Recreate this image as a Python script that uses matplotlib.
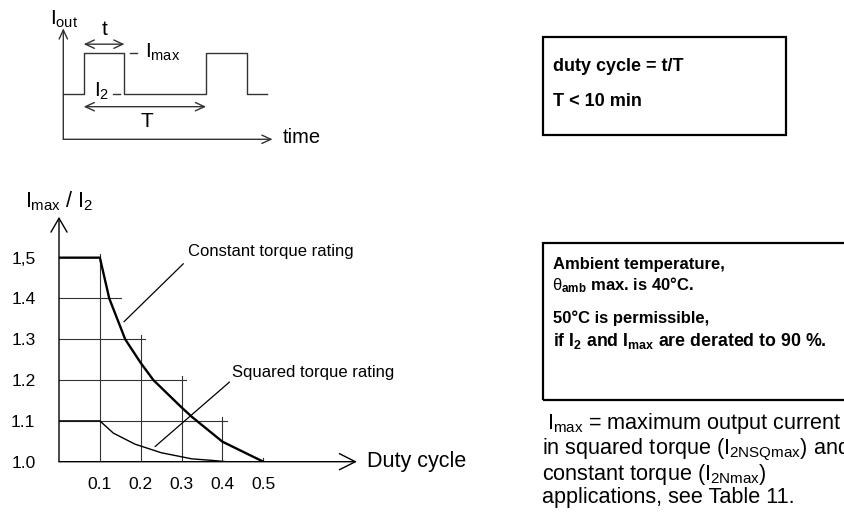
import matplotlib.pyplot as plt
from matplotlib.patches import Rectangle

plt.rcParams['font.family'] = ['Liberation Sans', 'DejaVu Sans']
plt.rcParams['mathtext.fontset'] = 'custom'
plt.rcParams['mathtext.rm'] = 'Liberation Sans'
plt.rcParams['mathtext.it'] = 'Liberation Sans'
plt.rcParams['mathtext.bf'] = 'Liberation Sans:bold'

# load curves: duty cycle -> Imax/I2
const_duty = [0, 0.1, 0.123, 0.162, 0.2, 0.231, 0.3, 0.325, 0.4, 0.5]
const_ratio = [1.5, 1.5, 1.4, 1.3, 1.242, 1.2, 1.133, 1.11, 1.049, 1.0]
sq_duty = [0, 0.1, 0.133, 0.186, 0.25, 0.3, 0.325, 0.377, 0.41, 0.5]
sq_ratio = [1.1, 1.1, 1.07, 1.043, 1.022, 1.012, 1.007, 1.003, 1.0, 1.0]

# helper grid: horizontal levels and how far they reach, vertical lines and their height
grid_levels = [1.4, 1.3, 1.2, 1.1]
grid_level_ends = [0.151, 0.21, 0.311, 0.41]
grid_duty = [0.1, 0.2, 0.3, 0.4, 0.5]
grid_duty_tops = [1.508, 1.31, 1.21, 1.11, 1.01]

x_ticks = [0.1, 0.2, 0.3, 0.4, 0.5]
x_labels = ['0.1', '0.2', '0.3', '0.4', '0.5']
y_ticks = [1.0, 1.1, 1.2, 1.3, 1.4, 1.5]
y_labels = ['1.0', '1.1', '1.2', '1.3', '1.4', '1,5']

# output current waveform (time in units of t, current in units of I2)
pulse_time = [0, 0.5, 0.5, 1.5, 1.5, 3.5, 3.5, 4.5, 4.5, 5.0]
pulse_level = [1, 1, 1.9, 1.9, 1, 1, 1.9, 1.9, 1, 1]

W, H = 845, 528
fig = plt.figure(figsize=(W / 100, H / 100), dpi=100)


def px_axes(left, top, right, bottom):
    a = fig.add_axes([left / W, 1 - bottom / H, (right - left) / W, (bottom - top) / H])
    a.set_axis_off()
    return a


def ftext(x, y, s, **kw):
    fig.text(x / W, 1 - y / H, s, va='center', ha='left', **kw)


def arrow(a, start, end, style, lw=1.0, color='black'):
    a.annotate('', xy=end, xytext=start, annotation_clip=False,
               arrowprops=dict(arrowstyle=style, lw=lw, color=color,
                               shrinkA=0, shrinkB=0, mutation_scale=10))


# ---- waveform sketch ----
ws = px_axes(63.3, 26.05, 279.5, 139.3)
ws.set_xlim(0, 5.3)
ws.set_ylim(0, 2.5)
ws.plot(pulse_time, pulse_level, color='#333', lw=1.0, clip_on=False)
arrow(ws, (0, 0), (5.13, 0), '->,head_length=0.65,head_width=0.3', color='#333')
arrow(ws, (0, 0), (0, 2.45), '->,head_length=0.65,head_width=0.3', color='#333')
arrow(ws, (0.5, 2.1), (1.5, 2.1), '<->,head_length=0.65,head_width=0.3', color='#333')
arrow(ws, (0.5, 0.72), (3.5, 0.72), '<->,head_length=0.65,head_width=0.3', color='#333')
ws.plot([1.63, 1.8], [1.9, 1.9], color='#333', lw=1.0)
ws.plot([1.22, 1.39], [1.0, 1.0], color='#333', lw=1.0)
ws.text(1.02, 2.42, 't', fontsize=15, ha='center', va='center')
ws.text(2.04, 0.39, 'T', fontsize=15, ha='center', va='center')
ws.text(2.0, 1.92, r'$I_{max}$', fontsize=15, ha='left', va='center')
ws.text(0.76, 1.05, r'$I_2$', fontsize=15, ha='left', va='center')
ws.text(5.39, 0.03, 'time', fontsize=14.5, ha='left', va='center')
ws.text(-0.33, 2.64, r'$I_{out}$', fontsize=15, ha='left', va='center')

# ---- derating chart ----
ax = fig.add_axes([59 / W, 1 - 461.7 / H, 306.5 / W, 253 / H])
ax.set_xlim(0, 0.75)
ax.set_ylim(1.0, 1.62)
for s in ax.spines.values():
    s.set_visible(False)
ax.set_xticks(x_ticks, labels=x_labels)
ax.set_yticks(y_ticks, labels=y_labels)
ax.tick_params(length=0, labelsize=12.5)
ax.tick_params(axis='x', pad=11)
ax.tick_params(axis='y', pad=17)

for lvl, end in zip(grid_levels, grid_level_ends):
    ax.plot([0, end], [lvl, lvl], color='#333', lw=0.8)
for d, top in zip(grid_duty, grid_duty_tops):
    ax.plot([d, d], [1.0, top], color='#333', lw=0.8)

ax.plot(const_duty, const_ratio, color='black', lw=1.7, zorder=3)
ax.plot(sq_duty, sq_ratio, color='black', lw=1.0, zorder=3)

arrow(ax, (0, 1.0), (0.729, 1.0), '->,head_length=1.15,head_width=0.58')
arrow(ax, (0, 1.0), (0, 1.6), '->,head_length=1.0,head_width=0.58')

ax.text(0.753, 1.0, 'Duty cycle', fontsize=15.5, ha='left', va='center')
ax.text(-0.083, 1.638, r'$I_{max}$ / $I_2$', fontsize=15.5, ha='left', va='center')

ax.annotate('Constant torque rating', xy=(0.159, 1.343), xytext=(0.316, 1.515),
            fontsize=12, ha='left', va='center',
            arrowprops=dict(arrowstyle='-', lw=0.9, relpos=(0, 0), shrinkA=2, shrinkB=0))
ax.annotate('Squared torque rating', xy=(0.235, 1.037), xytext=(0.424, 1.2195),
            fontsize=12, ha='left', va='center',
            arrowprops=dict(arrowstyle='-', lw=0.9, relpos=(0, 0), shrinkA=0, shrinkB=0))

# ---- notes on the right ----
def box(left, top, right, bottom):
    fig.add_artist(Rectangle((left / W, 1 - bottom / H), (right - left) / W,
                             (bottom - top) / H, transform=fig.transFigure,
                             fill=False, lw=1.6, color='black'))


box(543.3, 37.3, 786, 135)
ftext(552.7, 66.7, 'duty cycle = t/T', fontsize=13, fontweight='bold')
ftext(552.7, 101.7, 'T < 10 min', fontsize=13, fontweight='bold')

box(543.3, 243.3, 852, 400)
ftext(552.7, 265, 'Ambient temperature,', fontsize=12, fontweight='bold')
ftext(551.7, 285, r'$\theta_{\mathbf{amb}}$ max. is 40°C.', fontsize=12, fontweight='bold')
ftext(552.7, 318.3, '50°C is permissible,', fontsize=12, fontweight='bold')
ftext(552.7, 341, r'if $\mathbf{I_2}$ and $\mathbf{I_{max}}$ are derated to 90 %.',
      fontsize=12.8, fontweight='bold')

ftext(547, 423, r'$I_{max}$ = maximum output current', fontsize=15.6)
ftext(542.5, 449.5, r'in squared torque ($I_{2NSQmax}$) and', fontsize=15.6)
ftext(542.5, 474.5, r'constant torque ($I_{2Nmax}$)', fontsize=15.6)
ftext(542.5, 497, 'applications, see Table 11.', fontsize=15.6)

fig.savefig('out.png', dpi=100)
